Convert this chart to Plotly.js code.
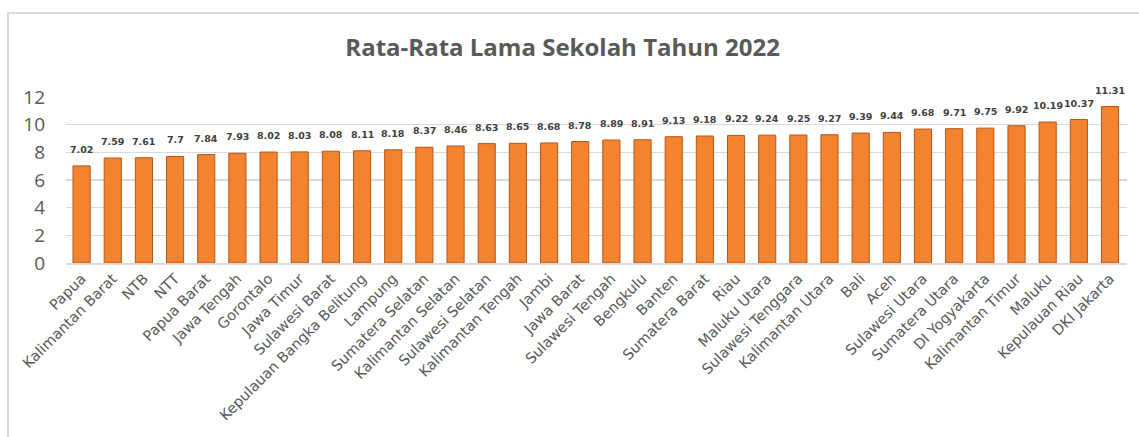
<!DOCTYPE html>
<html><head><meta charset="utf-8">
<script src="https://cdn.plot.ly/plotly-3.0.1.min.js"></script>
<style>
html,body{margin:0;padding:0;background:#fff;}
#wrap{position:relative;width:1139px;height:437px;overflow:hidden;}
#chart{width:1139px;height:437px;}
#frame{position:absolute;left:7px;top:12px;width:1200px;height:500px;border:2px solid #d9d9d9;pointer-events:none;box-sizing:border-box;}
</style></head>
<body><div id="wrap"><div id="chart"></div><div id="frame"></div></div>
<script>
const provinces = ["Papua","Kalimantan Barat","NTB","NTT","Papua Barat","Jawa Tengah","Gorontalo","Jawa Timur","Sulawesi Barat","Kepulauan Bangka Belitung","Lampung","Sumatera Selatan","Kalimantan Selatan","Sulawesi Selatan","Kalimantan Tengah","Jambi","Jawa Barat","Sulawesi Tengah","Bengkulu","Banten","Sumatera Barat","Riau","Maluku Utara","Sulawesi Tenggara","Kalimantan Utara","Bali","Aceh","Sulawesi Utara","Sumatera Utara","DI Yogyakarta","Kalimantan Timur","Maluku","Kepulauan Riau","DKI Jakarta"];
const values = [7.02,7.59,7.61,7.7,7.84,7.93,8.02,8.03,8.08,8.11,8.18,8.37,8.46,8.63,8.65,8.68,8.78,8.89,8.91,9.13,9.18,9.22,9.24,9.25,9.27,9.39,9.44,9.68,9.71,9.75,9.92,10.19,10.37,11.31];
const yTicks = [0,2,4,6,8,10,12];

const trace = {
  type: 'bar', x: provinces, y: values,
  marker: {color: '#F3832F', line: {color: '#B5561A', width: 1}},
  hoverinfo: 'x+y'
};
const annotations = provinces.map((p, i) => ({
  x: p, y: values[i], text: String(values[i]), showarrow: false,
  yanchor: 'bottom', yshift: 9,
  font: {family: 'DejaVu Sans', size: 9.5, color: '#404040', weight: 'bold'}
}));
const layout = {
  width: 1139, height: 437,
  margin: {l: 66, r: 12, t: 97, b: 174},
  paper_bgcolor: '#fff', plot_bgcolor: '#fff',
  title: {text: '<b>Rata-Rata Lama Sekolah Tahun 2022</b>', x: 0.494, xanchor: 'center', y: 0.89, yref: 'container', yanchor: 'middle',
    font: {family: 'Open Sans', size: 24, color: '#595959'}},
  bargap: 0.45,
  showlegend: false,
  xaxis: {tickangle: -45, tickfont: {family: 'DejaVu Sans', size: 14.5, color: '#595959'},
    showgrid: false, showline: true, linecolor: '#d9d9d9', linewidth: 1.5, ticks: '', fixedrange: true},
  yaxis: {range: [0, 12], tickvals: yTicks, ticktext: yTicks.map(String),
    tickfont: {family: 'Open Sans', size: 19, color: '#595959'},
    showgrid: true, gridcolor: '#d9d9d9', gridwidth: 1.5, zeroline: false, showline: false, ticks: '',
    ticklabelstandoff: 20, fixedrange: true},
  annotations: annotations
};
Plotly.newPlot('chart', [trace], layout, {displayModeBar: false, staticPlot: true});
</script></body></html>
